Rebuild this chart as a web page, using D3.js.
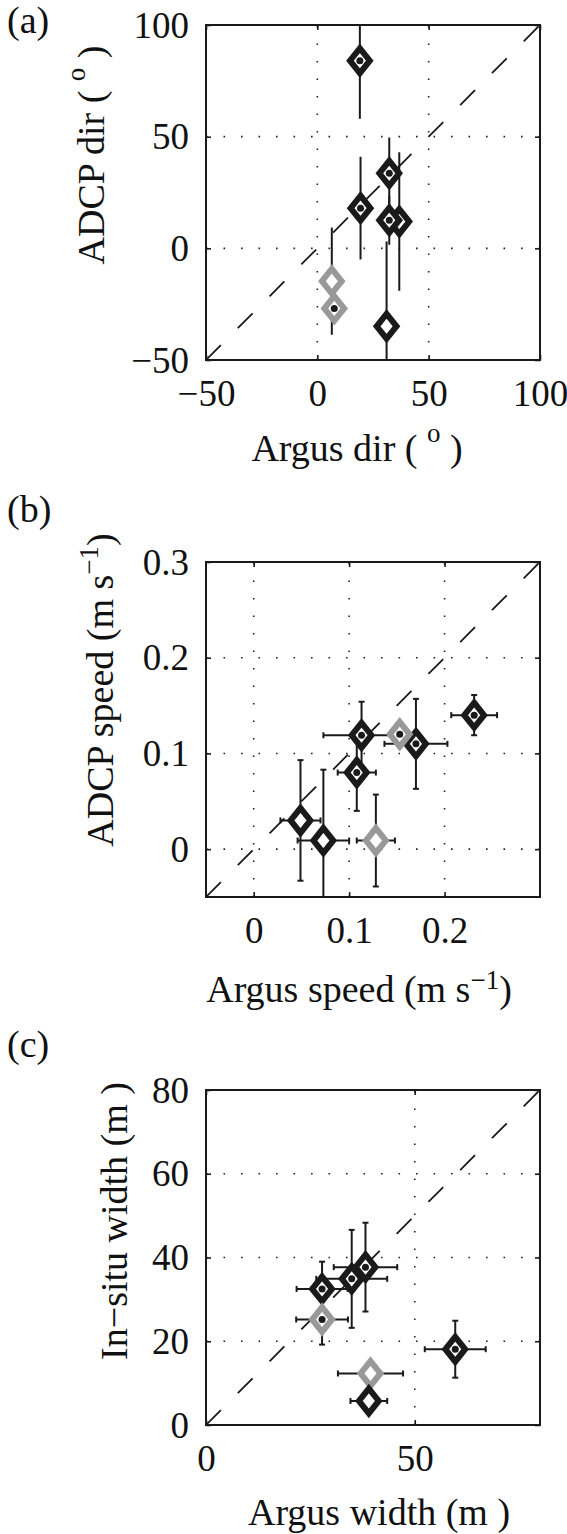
<!DOCTYPE html>
<html><head><meta charset="utf-8">
<script src="https://cdn.jsdelivr.net/npm/d3@7"></script>
<style>
body{margin:0;background:#fff}
svg{display:block}
svg text{font-family:"Liberation Serif","Times New Roman","DejaVu Serif",serif !important;fill:#111}
</style>
</head><body>
<svg id="chart" width="567" height="1534"></svg>
<script>
// ---------- Panel (a): direction ----------
const dirArgus      = [19.1, 19.4, 32.3, 36.8, 32.3, 31.1, 7.6, 6.5];
const dirADCP       = [84.0, 18.0, 33.6, 12.0, 12.6, -34.9, -26.9, -14.7];
const dirArgusErr   = [0, 0, 0, 0, 0, 0, 0, 0];
const dirADCPErr    = [26, 23, 16, 31, 11, 38, 0, 24];
const dirGrey       = [0, 0, 0, 0, 0, 0, 1, 1];
const dirDot        = [1, 1, 1, 0, 1, 0, 1, 0];
const dirTicks      = [-50, 0, 50, 100];
const dirTickLabels = ["\u221250", "0", "50", "100"];

// ---------- Panel (b): speed ----------
const speedArgus      = [0.049, 0.073, 0.128, 0.108, 0.113, 0.170, 0.153, 0.231];
const speedADCP       = [0.030, 0.009, 0.009, 0.080, 0.119, 0.110, 0.120, 0.140];
const speedArgusErr   = [0.021, 0.027, 0.020, 0.020, 0.040, 0.033, 0, 0.024];
const speedADCPErr    = [0.063, 0.074, 0.048, 0.040, 0.035, 0.047, 0, 0.021];
const speedGrey       = [0, 0, 1, 0, 0, 0, 1, 0];
const speedDot        = [0, 0, 0, 1, 1, 1, 1, 1];
const speedXTicks     = [0, 0.1, 0.2];
const speedXTickLabels= ["0", "0.1", "0.2"];
const speedYTicks     = [0, 0.1, 0.2, 0.3];
const speedYTickLabels= ["0", "0.1", "0.2", "0.3"];

// ---------- Panel (c): width ----------
const widthArgus       = [27.8, 27.8, 34.9, 38.2, 39.4, 39.0, 59.7];
const widthInsitu      = [32.5, 25.2, 34.9, 37.7, 12.3, 5.75, 18.1];
const widthArgusErr    = [6.1, 6.2, 8.5, 7.6, 7.8, 4.4, 7.3];
const widthInsituErr   = [6.5, 6.0, 11.7, 10.6, 0, 0, 6.8];
const widthGrey        = [0, 1, 0, 0, 1, 0, 0];
const widthDot         = [1, 1, 1, 1, 0, 0, 1];
const widthXTicks      = [0, 50];
const widthXTickLabels = ["0", "50"];
const widthYTicks      = [0, 20, 40, 60, 80];
const widthYTickLabels = ["0", "20", "40", "60", "80"];

const BLACK = "#1a1a1a", GREY = "#999999";
const FONT = "'Liberation Serif','Times New Roman','DejaVu Serif',serif";
const svg = d3.select("#chart");

const panels = [
  {id:"a", tag:"(a)", tagY:33, top:25, xDom:[-50,100], yDom:[-50,100],
   xT:dirTicks, xTL:dirTickLabels, yT:dirTicks, yTL:dirTickLabels,
   x:dirArgus, y:dirADCP, xe:dirArgusErr, ye:dirADCPErr, grey:dirGrey, dot:dirDot, caps:false,
   xlab:[["Argus dir ( ",0],["o",19],[" )",0]], xlabX:357, xlabY:461,
   ylab:[["ADCP dir ( ",0],["o",19],[" )",0]], ylabX:104, ylabY:155},
  {id:"b", tag:"(b)", tagY:522, top:562, xDom:[-0.05,0.3], yDom:[-0.05,0.3],
   xT:speedXTicks, xTL:speedXTickLabels, yT:speedYTicks, yTL:speedYTickLabels,
   x:speedArgus, y:speedADCP, xe:speedArgusErr, ye:speedADCPErr, grey:speedGrey, dot:speedDot, caps:true,
   xlab:[["Argus speed (m s",0],["\u22121",13],[")",0]], xlabX:359, xlabY:1002,
   ylab:[["ADCP speed (m s",0],["\u22121",15],[")",0]], ylabX:113, ylabY:690},
  {id:"c", tag:"(c)", tagY:1057, top:1090, xDom:[0,80], yDom:[0,80],
   xT:widthXTicks, xTL:widthXTickLabels, yT:widthYTicks, yTL:widthYTickLabels,
   x:widthArgus, y:widthInsitu, xe:widthArgusErr, ye:widthInsituErr, grey:widthGrey, dot:widthDot, caps:true,
   xlab:[["Argus width (m )",0]], xlabX:379, xlabY:1525,
   ylab:[["In\u2212situ width (m )",0]], ylabX:127, ylabY:1221}
];

const LEFT = 206, W = 334, H = 335;
const FS_TICK = 37, FS_LAB = 38, FS_SUP = 27;

panels.forEach(p => {
  const g = svg.append("g").attr("transform", `translate(${LEFT},${p.top})`);
  const xs = d3.scaleLinear().domain(p.xDom).range([0, W]);
  const ys = d3.scaleLinear().domain(p.yDom).range([H, 0]);

  svg.append("defs").append("clipPath").attr("id", "clip" + p.id)
    .append("rect").attr("width", W).attr("height", H);

  const gridX = p.xT.filter(v => xs(v) > 1 && xs(v) < W - 1);
  const gridY = p.yT.filter(v => ys(v) > 1 && ys(v) < H - 1);
  g.selectAll(".gx").data(gridX).join("line")
    .attr("x1", d => xs(d)).attr("x2", d => xs(d)).attr("y1", H).attr("y2", 0)
    .attr("stroke", "#222").attr("stroke-width", 1.6).attr("stroke-dasharray", "1.6,15.9");
  g.selectAll(".gy").data(gridY).join("line")
    .attr("y1", d => ys(d)).attr("y2", d => ys(d)).attr("x1", 0).attr("x2", W)
    .attr("stroke", "#222").attr("stroke-width", 1.6).attr("stroke-dasharray", "1.6,15.9");

  const fmtX = (d) => p.xTL[p.xT.indexOf(d)];
  const fmtY = (d) => p.yTL[p.yT.indexOf(d)];
  const axB = g.append("g").attr("transform", `translate(0,${H})`)
    .call(d3.axisBottom(xs).tickValues(p.xT).tickFormat(fmtX).tickSize(-5).tickPadding(20));
  const axL = g.append("g")
    .call(d3.axisLeft(ys).tickValues(p.yT).tickFormat(fmtY).tickSize(-5).tickPadding(17));
  const axT = g.append("g")
    .call(d3.axisTop(xs).tickValues(p.xT).tickFormat("").tickSize(-5));
  const axR = g.append("g").attr("transform", `translate(${W},0)`)
    .call(d3.axisRight(ys).tickValues(p.yT).tickFormat("").tickSize(-5));
  [axB, axL, axT, axR].forEach(a => {
    a.attr("font-family", FONT).attr("font-size", FS_TICK);
    a.select(".domain").remove();
    a.selectAll(".tick line").attr("stroke", BLACK).attr("stroke-width", 1.6);
    a.selectAll(".tick text").attr("font-size", FS_TICK)
      .attr("font-family", FONT).attr("fill", "#111");
  });
  axL.selectAll(".tick text").attr("dy", "0.33em");

  const clipG = g.append("g").attr("clip-path", `url(#clip${p.id})`);

  const lo = Math.max(p.xDom[0], p.yDom[0]), hi = Math.min(p.xDom[1], p.yDom[1]);
  clipG.append("line")
    .attr("x1", xs(lo)).attr("y1", ys(lo)).attr("x2", xs(hi)).attr("y2", ys(hi))
    .attr("stroke", BLACK).attr("stroke-width", 1.8).attr("stroke-dasharray", "21,24");

  const idx = d3.range(p.x.length);
  const cap = 3;
  const eb = clipG.append("g").attr("stroke", BLACK).attr("stroke-width", 2);
  idx.forEach(i => {
    const cx = xs(p.x[i]), cy = ys(p.y[i]);
    if (p.ye[i] > 0) {
      const y1 = ys(p.y[i] - p.ye[i]), y2 = ys(p.y[i] + p.ye[i]);
      eb.append("line").attr("x1", cx).attr("x2", cx).attr("y1", y1).attr("y2", y2);
      if (p.caps) {
        eb.append("line").attr("x1", cx - cap).attr("x2", cx + cap).attr("y1", y1).attr("y2", y1);
        eb.append("line").attr("x1", cx - cap).attr("x2", cx + cap).attr("y1", y2).attr("y2", y2);
      }
    }
    if (p.xe[i] > 0) {
      const x1 = xs(p.x[i] - p.xe[i]), x2 = xs(p.x[i] + p.xe[i]);
      eb.append("line").attr("x1", x1).attr("x2", x2).attr("y1", cy).attr("y2", cy);
      if (p.caps) {
        eb.append("line").attr("x1", x1).attr("x2", x1).attr("y1", cy - cap).attr("y2", cy + cap);
        eb.append("line").attr("x1", x2).attr("x2", x2).attr("y1", cy - cap).attr("y2", cy + cap);
      }
    }
  });

  const a = 9.9, b = 12.4;
  const dpath = `M0,${-b}L${a},0L0,${b}L${-a},0Z`;
  idx.forEach(i => {
    const cx = xs(p.x[i]), cy = ys(p.y[i]);
    g.append("path").attr("d", dpath).attr("transform", `translate(${cx},${cy})`)
      .attr("fill", "#fff").attr("stroke", p.grey[i] ? GREY : BLACK)
      .attr("stroke-width", 6).attr("stroke-linejoin", "miter").attr("stroke-miterlimit", 10);
    if (p.dot[i]) {
      g.append("circle").attr("cx", cx).attr("cy", cy).attr("r", 3.5).attr("fill", BLACK);
    }
  });

  g.append("rect").attr("width", W).attr("height", H)
    .attr("fill", "none").attr("stroke", BLACK).attr("stroke-width", 2);

  svg.append("text").attr("x", 7).attr("y", p.tagY).attr("font-family", FONT)
    .attr("font-size", FS_LAB).text(p.tag);

  const xl = svg.append("text").attr("x", p.xlabX).attr("y", p.xlabY).attr("font-family", FONT)
    .attr("text-anchor", "middle").attr("font-size", FS_LAB);
  let prev = 0;
  p.xlab.forEach(([s, up]) => {
    const t = xl.append("tspan").text(s).attr("dy", prev - up);
    if (up) t.attr("font-size", FS_SUP);
    prev = up;
  });

  const yl = svg.append("text").attr("font-family", FONT)
    .attr("transform", `translate(${p.ylabX},${p.ylabY}) rotate(-90)`)
    .attr("text-anchor", "middle").attr("font-size", FS_LAB);
  prev = 0;
  p.ylab.forEach(([s, up]) => {
    const t = yl.append("tspan").text(s).attr("dy", prev - up);
    if (up) t.attr("font-size", FS_SUP);
    prev = up;
  });
});
</script>
</body></html>
